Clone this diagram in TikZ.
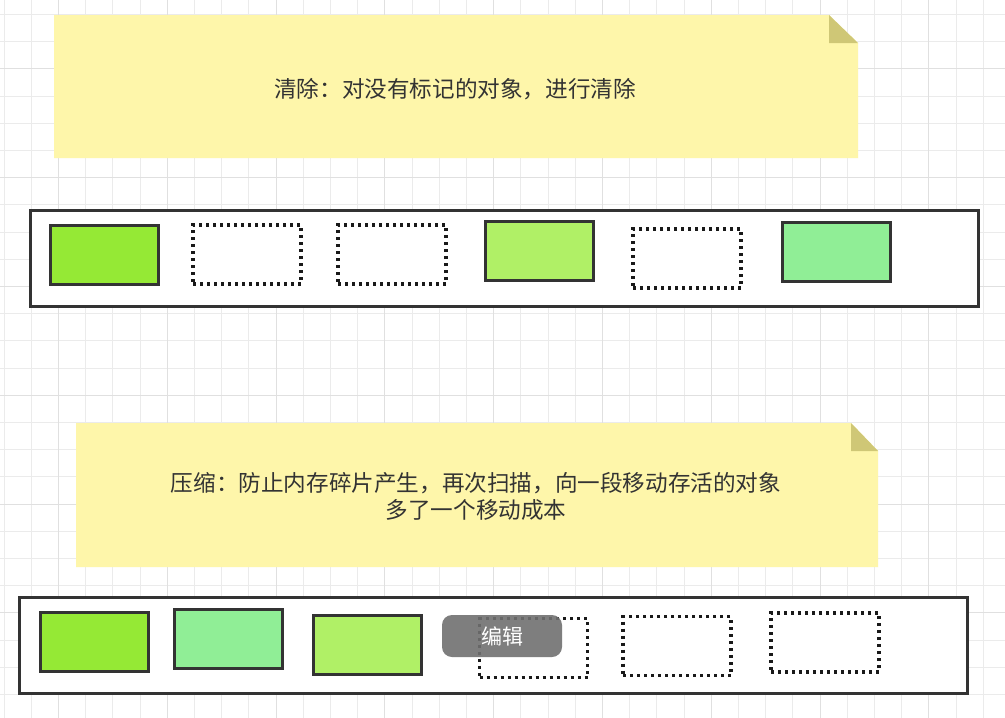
\documentclass[tikz,border=0pt]{standalone}
\usepackage{fontspec}
\newfontfamily\cjk{Noto Sans CJK SC}
\definecolor{notefill}{HTML}{FEF6AA}
\definecolor{foldfill}{HTML}{CFC776}
\definecolor{gA}{HTML}{95E935}
\definecolor{gB}{HTML}{B0F066}
\definecolor{gC}{HTML}{90EE96}
\definecolor{ink}{HTML}{333333}
\definecolor{gridc}{HTML}{EBEBEB}
\definecolor{gridm}{HTML}{E0E0E0}
\tikzset{
  obj/.style={draw=ink, line width=3pt, minimum width=108pt, minimum height=59pt, inner sep=0pt},
  freeobj/.style={draw=black!90, line width=3.2pt, dash pattern=on 3pt off 4pt, minimum width=108pt, minimum height=59pt, inner sep=0pt},
  heap/.style={draw=ink, line width=3pt, fill=white, inner sep=0pt},
  notetext/.style={text=ink, font=\cjk\fontsize{22.6}{27}\selectfont, align=center, inner sep=0pt},
}
\begin{document}
\begin{tikzpicture}[x=1pt,y=-1pt]
\useasboundingbox (0,0) rectangle (1005,718);
\fill[white] (0,0) rectangle (1005,718);
% grid
\foreach \i in {0,...,37} {
  \pgfmathsetmacro\gx{4+\i*27.2}
  \draw[gridc, line width=1pt] (\gx,0) -- (\gx,718);
}
\foreach \i in {0,...,26} {
  \pgfmathsetmacro\gy{14.5+\i*27.2}
  \draw[gridc, line width=1pt] (0,\gy) -- (1005,\gy);
}
\foreach \i in {0,...,9} {
  \pgfmathsetmacro\gx{58.4+\i*108.8}
  \draw[gridm, line width=1pt] (\gx,0) -- (\gx,718);
}
\foreach \i in {0,...,6} {
  \pgfmathsetmacro\gy{68.9+\i*108.8}
  \draw[gridm, line width=1pt] (0,\gy) -- (1005,\gy);
}

% note 1
\fill[notefill] (54,15) -- (829,15) -- (858,43) -- (858,158) -- (54,158) -- cycle;
\fill[foldfill] (829,15) -- (858,43) -- (829,43) -- cycle;
\node[notetext] (t1) at (455,89) {清除：对没有标记的对象，进行清除};

% heap 1
\node[heap, minimum width=948pt, minimum height=96pt] (h1) at (504,258) {};
\node[obj, fill=gA] (a1) at (104.5,255) {};
\node[freeobj] (a2) at (247,254.5) {};
\node[freeobj] (a3) at (392,254.5) {};
\node[obj, fill=gB] (a4) at (539.5,250.5) {};
\node[freeobj] (a5) at (687,258.5) {};
\node[obj, fill=gC] (a6) at (836,252) {};

% note 2
\fill[notefill] (76,423) -- (851,423) -- (878,451) -- (878,567) -- (76,567) -- cycle;
\fill[foldfill] (851,423) -- (878,451) -- (851,451) -- cycle;
\node[notetext] (t2) at (476,496.5) {压缩：防止内存碎片产生，再次扫描，向一段移动存活的对象\\多了一个移动成本};

% heap 2
\node[heap, minimum width=948pt, minimum height=96pt] (h2) at (493,645) {};
\node[obj, fill=gA] (b1) at (94,642) {};
\node[obj, fill=gC] (b2) at (228,638.5) {};
\node[obj, fill=gB] (b3) at (367.5,645) {};
\node[freeobj] (b4) at (533.5,648) {};
\node[freeobj] (b5) at (677,646) {};
\node[freeobj] (b6) at (825,642.5) {};

% overlay button
\node[fill=black!56, fill opacity=0.9, text opacity=1, rounded corners=10pt, minimum width=120pt, minimum height=42pt, inner sep=0pt, text=white, font=\cjk\fontsize{21}{24}\selectfont] (edit) at (502,636) {编辑};
\end{tikzpicture}
\end{document}
